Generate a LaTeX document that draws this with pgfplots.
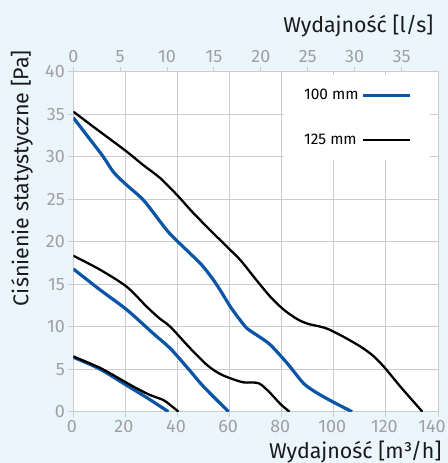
\documentclass[border=0pt]{standalone}
\usepackage{fontspec}
\setmainfont{Fira Sans}
\usepackage{pgfplots}
\pgfplotsset{compat=1.18}
\definecolor{bgblue}{HTML}{EBF6FC}
\definecolor{lineblue}{HTML}{0A55A5}
\definecolor{gridgray}{HTML}{CCCCCC}
\definecolor{tickgray}{HTML}{A0A0A0}
\definecolor{labelblack}{HTML}{1A1A1A}
\begin{document}
\begin{tikzpicture}
\fill[bgblue] (-73.3bp,-51.3bp) rectangle (374.7bp,411.7bp);
\path[use as bounding box] (-73.3bp,-51.3bp) rectangle (374.7bp,411.7bp);
\begin{axis}[
  at={(0,0)}, anchor=south west,
  scale only axis, width=364.7bp, height=340bp,
  xmin=0, xmax=140, ymin=0, ymax=40,
  xtick={0,20,...,120}, ytick={0,5,...,40},
  extra x ticks={140},
  extra x tick style={xticklabel style={xshift=-4.5bp}},
  grid=major, major grid style={gridgray, line width=1bp},
  axis line style={gridgray, line width=1bp},
  axis background/.style={fill=white},
  tick align=outside, major tick length=5bp,
  tick style={gridgray, line width=1bp},
  xtick pos=bottom, ytick pos=left,
  /pgf/number format/assume math mode=true,
  tick label style={font=\fontsize{18}{20}\selectfont, text=tickgray},
  xticklabel style={xshift=-1.5bp},
  xlabel={Wydajność [m³/h]},
  xlabel style={at={(axis description cs:1.019,-0.137)}, anchor=base east, font=\fontsize{21.5}{24}\selectfont, text=labelblack},
  ylabel={Ciśnienie statystyczne [Pa]},
  ylabel style={at={(axis description cs:-0.1407,0.687)}, anchor=center, font=\fontsize{21.5}{24}\selectfont, text=labelblack},
  legend plot pos=right,
  legend image code/.code={\draw[#1] (0bp,0bp) -- (47bp,0bp);},
  legend style={at={(axis description cs:0.978,0.99)}, anchor=north east, draw=none, fill=white,
    font=\fontsize{15.5}{17}\selectfont, inner xsep=18bp, inner ysep=12bp, row sep=29bp, column sep=1bp},
  legend cell align=left,
]
% 100 mm (blue)
\addplot[lineblue, line width=3.2bp, smooth, tension=0.5] coordinates {
(0,34.6) (5.5,32.4) (11.5,30) (15.4,28.2) (20,26.8) (26.9,24.9) (33,22.5) (37.2,20.9)
(44.9,18.6) (49.5,17.2) (53.8,15.5) (57,14) (60.3,12.35) (63.5,11) (66.7,9.8) (71,8.9)
(75.7,7.85) (82.1,5.7) (85.5,4.4) (88.5,3.3) (91.5,2.6) (94.9,1.96) (100,1.1) (107,0)};
\addlegendentry{100 mm}
% 125 mm (black)
\addplot[black, line width=2.3bp, smooth, tension=0.5] coordinates {
(0,35.3) (10,33.0) (20.5,30.6) (26.9,29.0) (33.3,27.5) (39.8,25.5) (46,23.4) (52.6,21.35)
(59,19.4) (64.1,17.85) (69.2,15.9) (75.7,13.5) (80.8,12) (85.9,10.9) (90,10.35) (94.9,10.0) (98,9.7) (103.8,8.8)
(110.3,7.65) (115,6.6) (119.2,5.3) (125.7,2.9) (134,0)};
\addlegendentry{125 mm}
\addplot[lineblue, line width=3.2bp, smooth, tension=0.5, forget plot] coordinates {
(0,16.8) (10,14.4) (20.5,12) (30.7,9.2) (37.2,7.45) (44,5.1) (50,2.95) (59.6,0)};
\addplot[black, line width=2.3bp, smooth, tension=0.5, forget plot] coordinates {
(0,18.35) (10.3,16.7) (20.5,14.7) (28.2,12.35) (33,11) (37.2,10) (44.9,7.45) (51.3,5.5)
(56,4.5) (60.3,3.93) (65.4,3.45) (71.2,3.34) (75.7,2.16) (79.5,0.9) (83,0)};
\addplot[lineblue, line width=3.2bp, smooth, tension=0.5, forget plot] coordinates {
(0,6.4) (10,5.05) (20.5,3.1) (28.5,1.6) (36.5,0)};
\addplot[black, line width=2.3bp, smooth, tension=0.5, forget plot] coordinates {
(0,6.5) (10.3,5.15) (18.6,3.73) (24,2.8) (29.5,1.96) (34.6,1.37) (37.2,0.79) (40.4,0)};
\end{axis}
\begin{axis}[
  at={(0,0)}, anchor=south west,
  scale only axis, width=364.7bp, height=340bp,
  xmin=0, xmax=38.8889, ymin=0, ymax=40,
  axis x line*=top, axis y line=none,
  xtick={0,5,...,35},
  axis line style={gridgray, line width=1bp},
  tick align=outside, major tick length=5bp,
  tick style={gridgray, line width=1bp},
  /pgf/number format/assume math mode=true,
  tick label style={font=\fontsize{18}{20}\selectfont, text=tickgray},
  xlabel={Wydajność [l/s]},
  xlabel style={at={(axis description cs:0.9965,1.116)}, anchor=base east, font=\fontsize{21.5}{24}\selectfont, text=labelblack},
]
\end{axis}
\end{tikzpicture}
\end{document}
